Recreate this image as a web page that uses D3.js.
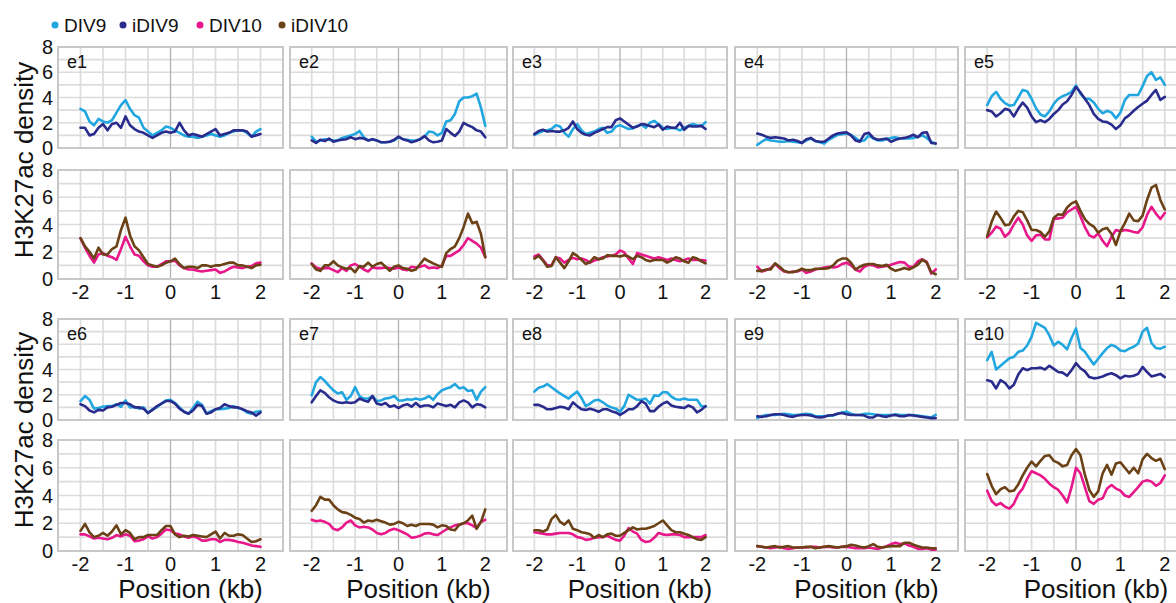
<!DOCTYPE html>
<html>
<head>
<meta charset="utf-8">
<script src="https://cdn.jsdelivr.net/npm/d3@7"></script>
<style>
  body { margin: 0; background: #fff; }
  svg { display: block; font-family: "Liberation Sans", Arial, sans-serif; }
  .grid line { stroke: #dcdcdc; stroke-width: 1.7; }
  .grid line.zero { stroke: #b2b2b2; stroke-width: 1.3; }
  .frame { fill: none; stroke: #c8c8c8; stroke-width: 2; }
  .tick-label { font-size: 20px; fill: #111; }
  .panel-label { font-size: 18px; fill: #111; }
  .axis-title { font-size: 26px; fill: #111; }
  .legend text { font-size: 19px; fill: #111; }
  .series { fill: none; stroke-width: 2.6; stroke-linejoin: round; stroke-linecap: round; }
</style>
</head>
<body>
<div id="chart"></div>
<script>
const positions = [-2.0, -1.9, -1.8, -1.7, -1.6, -1.5, -1.4, -1.3, -1.2, -1.1,
  -1.0, -0.9, -0.8, -0.7, -0.6, -0.5, -0.4, -0.3, -0.2, -0.1,
  0.0, 0.1, 0.2, 0.3, 0.4, 0.5, 0.6, 0.7, 0.8, 0.9,
  1.0, 1.1, 1.2, 1.3, 1.4, 1.5, 1.6, 1.7, 1.8, 1.9, 2.0];

const panelNames = ['e1', 'e2', 'e3', 'e4', 'e5', 'e6', 'e7', 'e8', 'e9', 'e10'];
const seriesNames = ['DIV9', 'iDIV9', 'DIV10', 'iDIV10'];
const yTicks = [0, 2, 4, 6, 8];
const xTicks = [-2, -1, 0, 1, 2];

const e1_DIV9 = [3.1,2.9,2.1,1.8,2.3,2.1,2.0,2.2,2.8,3.4,3.8,3.1,2.6,2.4,1.6,1.3,1.0,1.2,1.4,1.7,1.6,1.4,1.2,1.0,0.9,0.9,0.8,0.9,1.0,1.1,1.0,0.9,1.0,1.2,1.3,1.4,1.4,1.2,0.9,1.3,1.5];
const e1_iDIV9 = [1.6,1.6,1.0,1.1,1.6,1.9,1.4,1.9,2.0,1.6,2.5,1.8,1.5,1.3,1.2,1.0,0.8,1.0,1.2,1.3,1.2,1.3,2.0,1.4,1.0,1.1,1.0,0.9,1.1,1.3,1.5,1.0,1.1,1.2,1.4,1.4,1.4,1.3,0.9,1.0,1.1];
const e1_DIV10 = [3.0,2.3,1.7,1.2,1.8,1.9,1.7,1.6,1.4,2.2,3.1,2.4,1.8,1.7,1.3,1.0,0.9,0.9,1.1,1.3,1.3,1.35,1.0,0.8,0.7,0.7,0.6,0.55,0.6,0.65,0.7,0.45,0.55,0.75,0.9,0.85,0.8,0.9,0.95,1.15,1.2];
const e1_iDIV10 = [3.0,2.4,2.0,1.5,2.3,1.8,1.8,2.2,2.4,3.6,4.5,3.2,2.4,2.1,1.6,1.1,1.0,0.9,1.0,1.2,1.3,1.5,1.1,0.8,0.9,0.9,0.8,1.0,1.0,0.9,1.0,1.0,1.1,1.2,1.2,1.0,1.0,0.9,0.8,1.0,1.05];

const e2_DIV9 = [0.9,0.5,0.6,0.7,0.65,0.6,0.6,0.8,0.9,1.0,1.1,1.35,0.85,0.6,0.7,0.6,0.45,0.45,0.5,0.6,0.85,0.7,0.65,0.6,0.6,0.7,0.9,1.3,1.25,1.0,1.2,2.1,2.2,2.7,3.7,4.0,4.0,4.1,4.3,3.2,1.75];
const e2_iDIV9 = [0.6,0.4,0.65,0.55,0.75,0.5,0.6,0.65,0.7,0.85,0.7,0.8,0.75,0.6,0.7,0.6,0.45,0.45,0.5,0.65,0.9,0.7,0.6,0.45,0.55,0.7,0.95,0.6,0.45,0.5,0.6,1.5,1.2,0.95,1.3,2.0,1.8,1.65,1.4,1.3,0.85];
const e2_DIV10 = [1.15,0.85,0.75,0.8,0.8,0.65,0.5,0.8,0.6,1.0,1.1,0.9,0.7,0.55,0.85,0.8,0.8,0.85,0.8,0.75,0.85,0.7,0.65,0.9,0.85,0.9,1.0,0.8,0.85,0.8,1.0,1.7,1.7,1.9,2.1,2.5,3.0,2.8,2.6,2.3,1.6];
const e2_iDIV10 = [1.1,0.7,0.6,1.0,1.0,1.3,1.0,0.85,0.75,0.8,0.5,0.95,0.9,1.2,0.9,1.1,1.2,0.9,0.6,0.9,1.0,0.8,0.75,0.6,0.7,1.1,1.5,1.3,1.15,1.0,0.9,1.9,2.2,2.4,3.0,3.8,4.8,4.1,4.2,3.3,1.6];

const e3_DIV9 = [1.05,1.2,1.35,1.4,1.5,1.8,1.7,1.2,0.9,1.5,1.9,1.4,1.1,1.2,1.3,1.5,1.6,1.2,1.3,1.7,1.8,1.65,1.5,1.55,1.75,1.85,1.6,2.0,2.15,1.9,1.6,1.5,1.6,1.55,1.4,1.6,1.75,1.9,1.8,1.75,2.05];
const e3_iDIV9 = [1.1,1.35,1.45,1.3,1.35,1.3,1.3,1.4,1.6,2.1,1.5,1.2,1.05,1.0,1.2,1.35,1.5,1.65,1.65,2.2,2.35,2.1,1.85,1.6,1.7,1.9,1.85,1.75,1.65,1.85,1.45,1.7,1.6,1.6,2.0,1.45,1.75,1.7,1.7,1.75,1.5];
const e3_DIV10 = [1.65,1.8,1.4,1.0,1.0,1.6,1.5,1.2,1.4,1.55,1.45,1.5,1.4,1.2,1.35,1.45,1.6,1.65,1.7,1.8,2.1,1.95,1.5,1.1,1.9,1.8,1.7,1.6,1.5,1.6,1.5,1.4,1.5,1.4,1.3,1.4,1.5,1.4,1.4,1.4,1.35];
const e3_iDIV10 = [1.5,1.7,1.35,0.9,0.95,1.6,1.2,0.8,1.3,1.9,1.7,1.4,1.1,1.25,1.6,1.45,1.5,1.75,1.7,1.7,1.65,1.75,1.65,1.45,1.7,1.6,1.4,1.3,1.4,1.4,1.4,1.2,1.35,1.6,1.5,1.3,1.2,1.6,1.5,1.3,1.15];

const e4_DIV9 = [0.25,0.5,0.7,0.6,0.55,0.5,0.5,0.55,0.5,0.45,0.4,0.6,0.75,0.55,0.45,0.35,0.65,0.85,1.05,1.1,1.15,1.05,0.8,0.55,0.6,1.0,0.75,0.6,0.6,0.7,0.8,0.85,0.75,0.75,0.75,0.8,0.9,1.0,0.8,0.5,0.35];
const e4_iDIV9 = [1.15,1.05,0.9,0.8,0.85,0.8,0.75,0.6,0.65,0.55,0.4,0.7,0.8,0.55,0.5,0.5,0.75,1.0,1.15,1.2,1.25,1.0,0.6,0.5,1.1,1.2,0.8,0.65,0.7,0.75,0.5,0.65,0.75,0.8,0.9,1.05,0.85,1.2,1.25,0.4,0.35];
const e4_DIV10 = [0.9,0.55,0.65,0.8,1.1,0.8,0.55,0.5,0.55,0.55,0.7,0.45,0.55,0.7,0.75,0.85,0.9,0.85,0.9,1.1,1.2,1.0,0.7,0.55,0.9,1.05,1.0,0.85,0.9,0.95,1.05,1.15,1.25,1.2,0.9,0.9,1.3,1.45,1.25,0.4,0.7];
const e4_iDIV10 = [0.6,0.6,0.7,0.7,1.15,0.9,0.6,0.5,0.5,0.6,0.75,0.65,0.65,0.75,0.75,0.75,0.8,1.0,1.35,1.5,1.5,1.2,0.7,0.9,1.05,1.1,1.1,1.0,0.95,1.05,0.75,0.6,0.7,0.8,0.7,0.85,1.05,1.4,1.2,0.5,0.35];

const e5_DIV9 = [3.4,4.1,4.45,3.9,3.55,3.35,3.4,4.0,4.6,4.5,3.9,3.15,2.65,2.5,2.9,3.5,3.9,4.1,4.25,4.45,4.95,4.3,3.9,3.9,3.6,3.1,2.75,2.95,2.8,2.35,2.8,3.8,4.2,4.2,4.2,4.9,5.7,6.0,5.4,5.6,5.0];
const e5_iDIV9 = [3.0,2.9,2.5,2.75,3.1,3.0,2.5,3.1,3.6,3.2,2.5,2.05,2.2,2.05,2.3,2.7,3.0,3.45,3.7,4.2,4.85,4.4,3.9,3.4,2.7,2.3,2.1,2.05,1.85,1.5,1.8,2.35,2.6,2.95,3.25,3.5,3.75,4.2,4.6,3.8,4.05];
const e5_DIV10 = [3.05,3.4,3.85,3.7,3.1,3.4,4.0,4.5,4.0,3.2,2.8,3.2,3.25,2.9,2.9,4.4,4.45,4.5,4.9,5.1,5.3,4.6,3.8,3.2,3.05,3.35,2.8,2.4,3.1,3.6,3.5,3.6,3.55,3.45,3.4,3.8,4.7,5.3,4.8,4.4,4.85];
const e5_iDIV10 = [3.15,4.2,4.95,4.5,3.95,4.0,4.6,5.0,4.9,4.3,3.6,3.6,3.45,3.1,3.5,4.5,4.75,4.7,5.25,5.55,5.7,5.0,4.4,4.05,3.85,3.4,3.65,3.75,3.3,2.5,3.5,4.1,4.8,4.3,4.25,4.65,5.8,6.7,6.9,5.8,5.1];

const e6_DIV9 = [1.5,1.9,1.6,0.9,0.95,1.05,1.1,1.1,1.25,1.05,1.55,1.0,1.05,0.9,1.0,0.55,0.85,1.0,1.3,1.55,1.6,1.35,1.0,0.65,0.5,0.95,1.45,1.2,0.5,0.7,0.85,0.85,0.9,0.95,1.1,0.95,0.85,0.6,0.5,0.65,0.7];
const e6_iDIV9 = [1.25,1.1,0.75,0.6,0.8,0.75,1.0,1.05,1.2,1.35,1.35,1.25,1.0,1.0,0.9,0.55,0.8,1.1,1.3,1.5,1.5,1.3,0.9,0.65,0.5,0.75,1.2,1.1,0.5,0.6,0.85,0.95,1.25,1.1,1.0,1.0,0.85,0.7,0.6,0.35,0.6];
const e6_DIV10 = [1.2,1.2,1.05,0.9,0.95,0.9,0.85,0.95,1.15,1.05,1.2,1.1,0.7,0.75,0.85,1.05,0.9,1.0,1.25,1.55,1.5,1.25,1.2,1.05,0.95,1.05,0.95,0.75,0.75,0.85,0.85,0.65,0.8,0.8,0.75,0.65,0.6,0.5,0.4,0.35,0.3];
const e6_iDIV10 = [1.45,1.95,1.35,1.0,1.1,1.3,1.1,1.4,1.85,1.2,1.5,1.3,0.85,1.0,1.0,1.15,1.15,1.15,1.5,1.8,1.8,1.2,1.0,1.1,1.05,1.15,1.1,1.05,1.0,1.2,1.4,0.9,1.3,1.1,1.1,1.2,1.15,0.9,0.65,0.7,0.85];

const e7_DIV9 = [1.95,3.0,3.4,3.1,2.7,2.35,2.1,2.2,1.6,1.9,2.6,1.9,1.7,1.7,1.9,1.5,1.55,1.7,1.75,1.9,1.55,1.55,1.65,1.6,1.7,1.6,1.7,1.9,1.6,2.05,2.35,2.5,2.6,2.85,2.5,2.6,2.3,2.35,1.6,2.25,2.6];
const e7_iDIV9 = [1.4,1.9,2.35,2.15,1.8,1.55,1.4,1.35,1.4,1.35,1.4,1.7,1.55,1.45,1.9,1.3,1.2,1.35,1.05,1.15,0.95,1.15,1.25,1.05,1.35,1.05,1.15,1.15,1.0,1.3,1.2,1.1,1.2,1.0,1.4,1.55,1.4,1.0,1.25,1.2,1.0];
const e7_DIV10 = [2.25,2.15,2.2,2.1,1.95,1.6,1.5,1.7,2.05,2.2,1.85,1.7,1.75,1.7,1.55,1.3,1.2,1.3,1.5,1.6,1.5,1.35,1.2,0.95,1.0,1.1,1.25,1.3,1.2,1.15,1.35,1.55,1.7,1.85,1.9,2.0,2.0,1.85,1.65,2.1,2.25];
const e7_iDIV10 = [2.9,3.3,3.9,3.7,3.7,3.3,3.0,2.8,2.75,2.6,2.4,2.3,2.05,2.2,2.15,2.25,2.15,2.05,1.9,1.95,2.1,2.0,1.8,1.9,1.8,1.95,1.95,1.95,1.9,1.7,1.85,1.8,1.55,1.5,1.9,2.0,2.2,2.55,1.6,2.1,3.0];

const e8_DIV9 = [2.25,2.55,2.65,2.85,2.6,2.35,2.1,1.9,1.7,2.0,2.25,1.75,1.1,1.3,1.55,1.6,1.4,1.15,1.0,0.9,0.65,1.1,2.0,1.8,1.6,1.6,1.7,1.3,1.95,1.9,2.2,2.2,1.85,1.65,1.6,1.7,1.6,1.6,1.6,1.1,1.05];
const e8_iDIV9 = [1.2,1.2,1.05,0.85,0.85,0.95,1.05,1.0,0.85,1.4,1.1,0.85,0.8,0.9,0.8,0.65,0.85,0.85,0.7,0.6,0.4,0.6,0.85,0.85,1.1,1.5,1.3,0.7,0.7,1.05,1.3,1.45,1.15,1.05,1.0,0.95,1.15,1.0,0.6,0.8,1.1];
const e8_DIV10 = [1.35,1.3,1.25,1.2,1.2,1.25,1.3,1.3,1.3,1.2,1.0,0.95,0.8,0.85,0.95,1.0,1.0,1.1,0.95,0.8,0.75,1.1,1.65,1.4,1.25,0.8,0.65,0.7,0.95,1.3,1.2,1.15,1.2,1.2,1.15,1.0,1.0,1.0,1.0,1.0,1.15];
const e8_iDIV10 = [1.5,1.5,1.4,1.55,2.3,2.6,2.1,1.9,2.2,1.6,1.5,1.35,1.3,1.2,0.95,1.15,1.0,1.2,1.25,1.1,1.1,1.3,1.5,1.7,1.55,1.6,1.6,1.7,1.8,2.0,2.2,1.85,1.5,1.35,1.35,1.25,1.15,1.0,0.85,0.8,1.0];

const e9_DIV9 = [0.15,0.3,0.4,0.4,0.4,0.45,0.5,0.45,0.4,0.4,0.45,0.5,0.45,0.3,0.3,0.3,0.35,0.35,0.5,0.6,0.65,0.5,0.4,0.4,0.5,0.5,0.45,0.4,0.4,0.4,0.4,0.45,0.4,0.4,0.4,0.4,0.35,0.3,0.25,0.2,0.4];
const e9_iDIV9 = [0.3,0.25,0.3,0.4,0.45,0.45,0.4,0.3,0.25,0.35,0.4,0.4,0.35,0.25,0.2,0.25,0.35,0.4,0.5,0.55,0.45,0.4,0.4,0.4,0.35,0.2,0.2,0.4,0.3,0.25,0.35,0.4,0.3,0.3,0.4,0.35,0.3,0.25,0.2,0.15,0.15];
const e9_DIV10 = [0.35,0.3,0.25,0.2,0.25,0.3,0.2,0.15,0.2,0.25,0.25,0.25,0.3,0.3,0.25,0.3,0.3,0.25,0.25,0.3,0.3,0.25,0.2,0.2,0.2,0.25,0.2,0.15,0.25,0.35,0.5,0.6,0.5,0.55,0.4,0.3,0.15,0.15,0.2,0.1,0.1];
const e9_iDIV10 = [0.35,0.3,0.25,0.3,0.35,0.25,0.3,0.35,0.25,0.25,0.25,0.3,0.3,0.2,0.25,0.3,0.35,0.3,0.25,0.3,0.35,0.45,0.4,0.3,0.25,0.35,0.5,0.3,0.25,0.3,0.35,0.35,0.35,0.6,0.6,0.45,0.35,0.25,0.25,0.2,0.2];

const e10_DIV9 = [4.75,5.4,4.0,4.3,4.6,4.9,5.0,5.4,5.5,5.9,6.6,7.7,7.5,7.3,6.7,5.9,6.2,5.95,5.6,6.5,7.25,5.7,5.4,4.9,4.4,4.85,5.3,5.7,5.95,5.8,5.5,5.45,5.65,5.8,6.05,7.0,7.3,6.1,5.7,5.65,5.8];
const e10_iDIV9 = [3.15,3.05,2.5,3.15,2.95,2.5,2.8,3.6,4.1,3.95,4.1,4.1,4.15,4.0,4.3,4.05,3.8,3.75,3.5,3.95,4.5,4.1,3.85,3.4,3.3,3.35,3.45,3.6,3.7,3.55,3.3,3.5,3.45,3.5,3.65,4.2,3.8,3.45,3.55,3.65,3.4];
const e10_DIV10 = [4.35,3.6,3.3,3.45,3.2,3.05,3.4,4.1,4.5,5.2,5.75,5.6,5.45,5.2,4.85,4.6,4.4,4.0,3.5,4.6,6.0,5.6,4.6,3.6,3.4,3.7,3.8,4.5,4.75,4.5,4.35,4.0,3.9,4.25,4.6,5.0,5.1,5.0,4.7,4.9,5.45];
const e10_iDIV10 = [5.55,4.7,4.1,4.45,4.6,4.3,4.35,4.8,5.45,6.0,6.45,6.1,6.5,6.85,6.9,6.5,6.35,6.1,6.2,6.9,7.35,6.9,5.5,4.4,3.9,4.3,5.6,6.2,5.5,6.3,6.4,6.0,5.6,6.0,5.6,6.6,7.0,6.7,6.5,6.65,5.9];

// lookup table built from the arrays above
const seriesTable = {
  e1: [e1_DIV9, e1_iDIV9, e1_DIV10, e1_iDIV10],
  e2: [e2_DIV9, e2_iDIV9, e2_DIV10, e2_iDIV10],
  e3: [e3_DIV9, e3_iDIV9, e3_DIV10, e3_iDIV10],
  e4: [e4_DIV9, e4_iDIV9, e4_DIV10, e4_iDIV10],
  e5: [e5_DIV9, e5_iDIV9, e5_DIV10, e5_iDIV10],
  e6: [e6_DIV9, e6_iDIV9, e6_DIV10, e6_iDIV10],
  e7: [e7_DIV9, e7_iDIV9, e7_DIV10, e7_iDIV10],
  e8: [e8_DIV9, e8_iDIV9, e8_DIV10, e8_iDIV10],
  e9: [e9_DIV9, e9_iDIV9, e9_DIV10, e9_iDIV10],
  e10: [e10_DIV9, e10_iDIV9, e10_DIV10, e10_iDIV10]
};

const colors = d3.scaleOrdinal()
  .domain(seriesNames)
  .range(['#21a6e0', '#292c8c', '#e8178a', '#6b4116']);

const width = 1176;
const height = 603;

// layout of the composite figure
const colLeft = [58, 290, 513, 735, 965];
const colWidth = [225, 217, 214, 223, 222];
const rowBands = [
  { top: [47, 148], bottom: [170, 279] },
  { top: [319, 420], bottom: [440, 551] }
];

const svg = d3.select('#chart').append('svg')
  .attr('width', width)
  .attr('height', height);

const gridX = d3.range(-2.5, 2.51, 0.5);
const gridY = d3.range(0, 9, 1);

function drawSub(panel, col, band, pair, isBottom, showY, showTitle) {
  const left = colLeft[col];
  const w = colWidth[col];
  const [y0, y1] = band;

  const x = d3.scaleLinear().domain([-2.5, 2.5]).range([left, left + w]);
  const y = d3.scaleLinear().domain([0, 8]).range([y1, y0]);

  const g = svg.append('g').attr('class', 'sub');

  const grid = g.append('g').attr('class', 'grid');
  grid.selectAll('.gy').data(gridY)
    .enter().append('line')
      .attr('x1', left).attr('x2', left + w)
      .attr('y1', d => y(d)).attr('y2', d => y(d));
  grid.selectAll('.gx').data(gridX)
    .enter().append('line')
      .attr('class', d => Math.abs(d) < 1e-9 ? 'zero' : null)
      .attr('x1', d => x(d)).attr('x2', d => x(d))
      .attr('y1', y0).attr('y2', y1);
  grid.selectAll('line.zero').raise();

  g.append('rect').attr('class', 'frame')
    .attr('x', left).attr('y', y0)
    .attr('width', w).attr('height', y1 - y0);

  const line = d3.line()
    .x((d, i) => x(positions[i]))
    .y(d => y(d));

  g.selectAll('.series').data(pair)
    .enter().append('path')
      .attr('class', 'series')
      .attr('stroke', d => colors(d.name))
      .attr('d', d => line(d.values));

  if (showY) {
    g.selectAll('.ytick').data(yTicks)
      .enter().append('text')
        .attr('class', 'tick-label')
        .attr('x', 53)
        .attr('y', d => y(d))
        .attr('dy', '0.36em')
        .attr('text-anchor', 'end')
        .text(d => d);
  }

  if (!isBottom) {
    g.append('text').attr('class', 'panel-label')
      .attr('x', left + 9)
      .attr('y', y0 + 21)
      .text(panel);
  } else {
    g.selectAll('.xtick').data(xTicks)
      .enter().append('text')
        .attr('class', 'tick-label')
        .attr('x', d => x(d))
        .attr('y', y1 + 20)
        .attr('text-anchor', 'middle')
        .text(d => d);
    if (showTitle) {
      g.append('text').attr('class', 'axis-title')
        .attr('x', x(0) + 20)
        .attr('y', 598)
        .attr('text-anchor', 'middle')
        .text('Position (kb)');
    }
  }
}

panelNames.forEach((panel, i) => {
  const col = i % 5;
  const row = Math.floor(i / 5);
  const vals = seriesTable[panel];
  const topPair = [{ name: 'DIV9', values: vals[0] }, { name: 'iDIV9', values: vals[1] }];
  const botPair = [{ name: 'DIV10', values: vals[2] }, { name: 'iDIV10', values: vals[3] }];
  drawSub(panel, col, rowBands[row].top, topPair, false, col === 0, false);
  drawSub(panel, col, rowBands[row].bottom, botPair, true, col === 0, row === 1);
});

// y axis titles, one per row of panels
[160, 430].forEach(cy => {
  svg.append('text').attr('class', 'axis-title')
    .attr('transform', `translate(33,${cy}) rotate(-90)`)
    .attr('text-anchor', 'middle')
    .text('H3K27ac density');
});

// legend
const legendX = [55, 123, 200, 282];
const legend = svg.append('g').attr('class', 'legend');
const item = legend.selectAll('.item').data(seriesNames)
  .enter().append('g')
    .attr('transform', (d, i) => `translate(${legendX[i]},25)`);
item.append('circle').attr('r', 3.5).attr('fill', d => colors(d));
item.append('text').attr('x', 9).attr('y', 6.8).text(d => d);
</script>
</body>
</html>
